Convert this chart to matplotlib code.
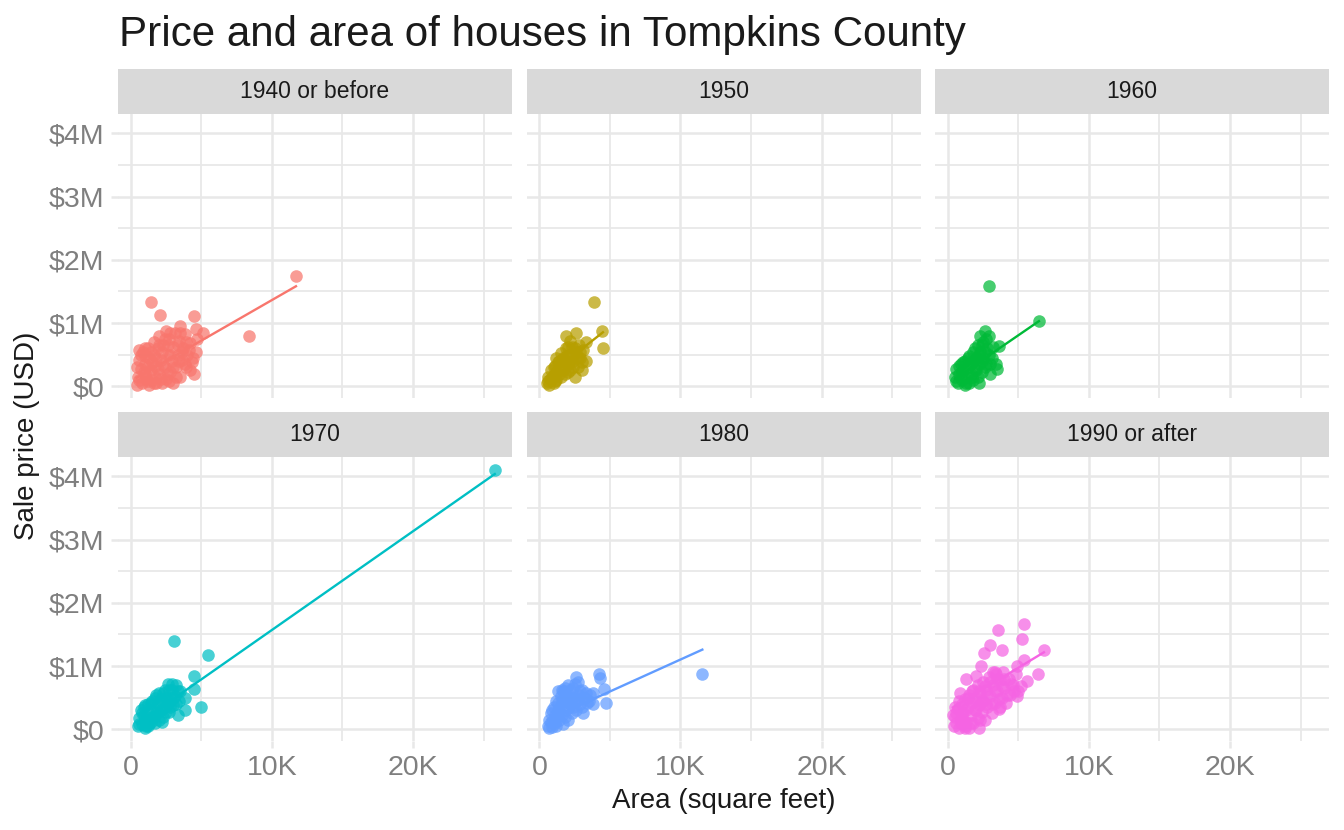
import numpy as np
import matplotlib.pyplot as plt

plt.rcParams['font.family'] = ['Liberation Sans', 'DejaVu Sans']

facets = ['1940 or before', '1950', '1960', '1970', '1980', '1990 or after']
colors = ['#F8766D', '#B79F00', '#00BA38', '#00BFC4', '#619CFF', '#F564E3']

# area in thousand square feet, price in million USD
area_1940 = [0.4, 0.5, 0.45, 0.6, 0.8, 0.9, 0.85, 1.0, 1.1, 1.2, 1.3, 1.3, 1.4, 1.5, 1.6, 1.6,
             1.7, 1.8, 1.9, 2.0, 2.0, 2.1, 2.2, 2.3, 2.4, 2.5, 2.5, 2.6, 2.7, 2.8, 2.9, 3.0,
             3.0, 3.1, 3.2, 3.3, 3.4, 3.5, 3.6, 3.7, 3.8, 3.9, 4.0, 4.2, 4.3, 4.6, 4.7,
             0.6, 0.7, 0.7, 1.0, 1.0, 1.2, 1.2, 1.4, 1.5, 1.7, 1.8, 1.9, 2.1, 2.2, 2.3, 2.4,
             2.6, 2.6, 2.8, 2.8, 3.0, 3.2, 3.3, 3.4, 3.6, 3.8, 3.9, 4.1, 4.4, 2.0, 1.6, 2.7,
             3.5, 4.2,
             11.7, 1.4, 2.05, 4.45, 8.4, 4.5, 4.6, 5.1, 3.5, 0.6, 1.0]
price_1940 = [0.02, 0.15, 0.3, 0.42, 0.05, 0.22, 0.55, 0.35, 0.12, 0.6, 0.02, 0.45, 0.25, 0.1, 0.5, 0.7,
              0.32, 0.05, 0.6, 0.2, 0.8, 0.42, 0.05, 0.65, 0.3, 0.88, 0.12, 0.5, 0.75, 0.22, 0.4, 0.62,
              0.05, 0.85, 0.3, 0.5, 0.72, 0.15, 0.42, 0.6, 0.82, 0.3, 0.5, 0.68, 0.38, 0.55, 0.75,
              0.1, 0.28, 0.5, 0.2, 0.48, 0.3, 0.08, 0.55, 0.38, 0.15, 0.45, 0.28, 0.12, 0.55, 0.35, 0.75,
              0.2, 0.65, 0.5, 0.85, 0.3, 0.15, 0.65, 0.4, 0.55, 0.35, 0.7, 0.58, 0.45, 0.65, 0.05, 0.08,
              0.85, 0.25,
              1.75, 1.34, 1.12, 1.11, 0.79, 0.19, 0.9, 0.84, 0.95, 0.58, 0.6]

area_1950 = [0.5, 0.6, 0.7, 0.8, 0.8, 1.0, 1.0, 1.1, 1.2, 1.3, 1.4, 1.5, 1.5, 1.6, 1.7, 1.8,
             1.9, 2.0, 2.1, 2.2, 2.3, 2.4, 2.5, 2.6, 2.7, 2.8, 2.9, 3.0, 3.1, 3.3, 2.2, 1.2,
             0.6, 0.9, 1.1, 1.2, 1.3, 1.4, 1.6, 1.7, 1.8, 1.9, 2.0, 2.1, 2.3, 2.4, 2.5, 2.7,
             2.9, 3.0, 2.0, 1.0,
             3.9, 4.4, 4.5, 1.9, 2.6, 3.3]
price_1950 = [0.05, 0.15, 0.02, 0.1, 0.25, 0.05, 0.18, 0.32, 0.1, 0.25, 0.4, 0.15, 0.52, 0.3, 0.45, 0.2,
              0.6, 0.35, 0.5, 0.25, 0.62, 0.4, 0.15, 0.55, 0.3, 0.65, 0.45, 0.25, 0.58, 0.4, 0.72, 0.45,
              0.08, 0.15, 0.08, 0.22, 0.38, 0.2, 0.42, 0.25, 0.38, 0.48, 0.22, 0.38, 0.48, 0.3, 0.6, 0.45,
              0.55, 0.38, 0.62, 0.3,
              1.34, 0.88, 0.6, 0.79, 0.84, 0.7]

area_1960 = [0.5, 0.6, 0.7, 0.8, 0.9, 1.0, 1.1, 1.2, 1.2, 1.3, 1.4, 1.5, 1.5, 1.6, 1.7, 1.8,
             1.8, 1.9, 2.0, 2.1, 2.1, 2.2, 2.3, 2.3, 2.4, 2.5, 2.5, 2.6, 2.7, 2.8, 2.9, 3.0,
             3.1, 3.2, 3.4,
             0.6, 0.8, 1.0, 1.1, 1.3, 1.4, 1.6, 1.7, 1.9, 2.0, 2.2, 2.4, 2.6, 2.7, 2.9, 3.0,
             2.4, 1.9, 2.2, 2.6,
             2.9, 6.45, 3.6, 3.5]
price_1960 = [0.15, 0.28, 0.05, 0.2, 0.35, 0.1, 0.25, 0.02, 0.4, 0.15, 0.3, 0.05, 0.48, 0.2, 0.38, 0.1,
              0.55, 0.28, 0.45, 0.65, 0.15, 0.35, 0.55, 0.8, 0.22, 0.45, 0.7, 0.88, 0.35, 0.6, 0.8, 0.2,
              0.45, 0.62, 0.35,
              0.08, 0.32, 0.22, 0.38, 0.05, 0.45, 0.35, 0.15, 0.42, 0.25, 0.5, 0.65, 0.3, 0.75, 0.5, 0.35,
              0.4, 0.6, 0.05, 0.55,
              1.58, 1.03, 0.63, 0.27]

area_1970 = [0.5, 0.6, 0.7, 0.8, 0.9, 1.0, 1.0, 1.1, 1.2, 1.3, 1.4, 1.5, 1.6, 1.7, 1.7, 1.8,
             1.9, 2.0, 2.0, 2.1, 2.2, 2.3, 2.4, 2.4, 2.5, 2.6, 2.7, 2.8, 2.9, 3.0, 3.1, 3.2,
             3.3, 3.4, 3.5, 3.8, 1.2,
             0.6, 0.8, 0.9, 1.1, 1.2, 1.4, 1.5, 1.6, 1.8, 1.9, 2.1, 2.2, 2.3, 2.5, 2.6, 2.7,
             2.8, 3.0, 3.2, 3.3, 2.9, 1.0,
             25.8, 3.05, 5.46, 4.5, 4.5, 5.0, 3.8]
price_1970 = [0.05, 0.18, 0.3, 0.08, 0.22, 0.02, 0.38, 0.15, 0.28, 0.08, 0.42, 0.2, 0.32, 0.1, 0.5, 0.25,
              0.4, 0.15, 0.58, 0.3, 0.45, 0.2, 0.62, 0.35, 0.5, 0.72, 0.28, 0.45, 0.62, 0.38, 0.52, 0.7,
              0.22, 0.45, 0.6, 0.5, 0.05,
              0.08, 0.25, 0.35, 0.05, 0.4, 0.12, 0.45, 0.2, 0.55, 0.28, 0.48, 0.12, 0.58, 0.28, 0.42, 0.62,
              0.35, 0.5, 0.4, 0.6, 0.72, 0.15,
              4.1, 1.40, 1.18, 0.85, 0.63, 0.35, 0.3]

area_1980 = [0.6, 0.7, 0.8, 0.9, 1.0, 1.0, 1.1, 1.2, 1.2, 1.3, 1.4, 1.5, 1.5, 1.6, 1.7, 1.7,
             1.8, 1.9, 2.0, 2.0, 2.1, 2.2, 2.3, 2.4, 2.5, 2.6, 2.7, 2.8, 2.9, 3.0, 3.1, 3.2,
             3.4, 3.6, 3.8, 1.3,
             0.7, 0.8, 0.9, 1.1, 1.3, 1.4, 1.6, 1.6, 1.8, 1.9, 2.1, 2.2, 2.3, 2.4, 2.5, 2.7,
             2.9, 3.0, 3.3, 3.5, 1.2, 2.0,
             11.55, 4.2, 4.3, 2.6, 1.8, 4.6, 4.7, 3.8]
price_1980 = [0.05, 0.15, 0.25, 0.03, 0.12, 0.35, 0.22, 0.05, 0.45, 0.3, 0.15, 0.52, 0.38, 0.22, 0.6, 0.08,
              0.45, 0.3, 0.7, 0.15, 0.55, 0.4, 0.25, 0.65, 0.48, 0.3, 0.75, 0.55, 0.4, 0.62, 0.25, 0.5,
              0.42, 0.55, 0.4, 0.6,
              0.02, 0.12, 0.3, 0.1, 0.42, 0.28, 0.45, 0.62, 0.2, 0.55, 0.35, 0.62, 0.5, 0.35, 0.72, 0.48,
              0.6, 0.35, 0.58, 0.45, 0.2, 0.45,
              0.87, 0.87, 0.81, 0.82, 0.66, 0.63, 0.42, 0.57]

area_1990 = [0.4, 0.5, 0.6, 0.7, 0.8, 0.9, 1.0, 1.0, 1.1, 1.2, 1.3, 1.4, 1.5, 1.5, 1.6, 1.7,
             1.8, 1.8, 1.9, 2.0, 2.1, 2.1, 2.2, 2.3, 2.4, 2.5, 2.5, 2.6, 2.7, 2.8, 2.9, 3.0,
             3.1, 3.2, 3.3, 3.4, 3.5, 3.6, 3.7, 3.8, 3.9, 4.0, 4.1, 4.3, 4.4, 4.6, 4.8, 5.0,
             2.0, 1.2,
             0.5, 0.6, 0.8, 0.9, 1.1, 1.3, 1.4, 1.6, 1.7, 1.9, 2.0, 2.2, 2.3, 2.4, 2.6, 2.7,
             2.8, 3.0, 3.1, 3.3, 3.5, 3.6, 3.8, 4.0, 4.2, 4.5, 4.7, 3.2, 2.2, 1.0,
             5.4, 3.55, 5.25, 3.0, 2.55, 3.8, 6.8, 5.4, 2.35, 4.9, 6.4, 1.3, 3.3, 5.6, 5.2,
             0.85, 4.9, 3.7, 0.35, 1.2]
price_1990 = [0.05, 0.2, 0.1, 0.32, 0.02, 0.18, 0.4, 0.08, 0.28, 0.48, 0.12, 0.35, 0.55, 0.02, 0.22, 0.42,
              0.62, 0.1, 0.3, 0.5, 0.7, 0.18, 0.38, 0.58, 0.28, 0.75, 0.45, 0.15, 0.62, 0.35, 0.82, 0.52,
              0.25, 0.7, 0.42, 0.88, 0.6, 0.32, 0.78, 0.5, 0.9, 0.65, 0.42, 0.8, 0.55, 0.7, 0.88, 0.6,
              0.85, 0.02,
              0.35, 0.25, 0.45, 0.1, 0.15, 0.3, 0.5, 0.1, 0.6, 0.45, 0.3, 0.6, 0.15, 0.45, 0.68, 0.4,
              0.55, 0.75, 0.4, 0.6, 0.8, 0.48, 0.68, 0.8, 0.55, 0.72, 0.6, 0.9, 0.02, 0.25,
              1.67, 1.57, 1.42, 1.33, 1.2, 1.26, 1.25, 1.09, 1.0, 1.0, 0.88, 0.8, 0.9, 0.77, 0.69,
              0.57, 0.52, 0.36, 0.22, 0.06]

areas = [area_1940, area_1950, area_1960, area_1970, area_1980, area_1990]
prices = [price_1940, price_1950, price_1960, price_1970, price_1980, price_1990]

# linear fit lines (slope in $M per 1K sq ft)
fit_slope = [0.128, 0.176, 0.153, 0.156, 0.101, 0.135]
fit_intercept = [0.084, 0.062, 0.043, 0.011, 0.093, 0.299]

x_ticks = [0, 10, 20]
x_labels = ['0', '10K', '20K']
x_minor = [5, 15, 25]
y_ticks = [0, 1, 2, 3, 4]
y_labels = ['$0', '$1M', '$2M', '$3M', '$4M']
y_minor = [0.5, 1.5, 2.5, 3.5]

W, H = 1344, 830
fig = plt.figure(figsize=(W / 100, H / 100), dpi=100)
fig.patch.set_facecolor('white')

grid_col = '#E8E8E8'
col_left = [118, 526.5, 935]
panel_w = 394
row_top = [114, 457]
panel_h = 284
strip_h = 45

for i in range(6):
    r, c = divmod(i, 3)
    left = col_left[c]
    top = row_top[r]
    ax = fig.add_axes([left / W, 1 - (top + panel_h) / H, panel_w / W, panel_h / H])
    ax.set_facecolor('white')
    for s in ax.spines.values():
        s.set_visible(False)
    ax.set_xlim(-0.92, 27.02)
    ax.set_ylim(-0.185, 4.305)

    for xv in x_minor:
        ax.axvline(xv, color=grid_col, lw=1.3, zorder=0)
    for yv in y_minor:
        ax.axhline(yv, color=grid_col, lw=1.3, zorder=0)
    for xv in x_ticks:
        ax.axvline(xv, color=grid_col, lw=1.8, zorder=0)
    for yv in y_ticks:
        ax.axhline(yv, color=grid_col, lw=1.8, zorder=0)

    ax.set_xticks(x_ticks)
    ax.set_yticks(y_ticks)
    ax.tick_params(axis='both', length=5, width=1.8, color=grid_col,
                   labelsize=20.5, labelcolor='#7F7F7F', pad=5)
    if c == 0:
        ax.set_yticklabels(y_labels)
    else:
        ax.tick_params(axis='y', left=False, labelleft=False)
    if r == 1:
        ax.set_xticklabels(x_labels)
    else:
        ax.tick_params(axis='x', bottom=False, labelbottom=False)

    a = np.array(areas[i])
    p = np.array(prices[i])
    ax.scatter(a, p, s=82, color=colors[i], alpha=0.72, linewidths=0, zorder=2)
    xs = np.array([a.min(), a.max()])
    ax.plot(xs, fit_intercept[i] + fit_slope[i] * xs, color=colors[i], lw=1.7, zorder=3)

    sax = fig.add_axes([left / W, 1 - (top) / H, panel_w / W, strip_h / H])
    sax.set_facecolor('#D9D9D9')
    sax.set_xticks([])
    sax.set_yticks([])
    for s in sax.spines.values():
        s.set_visible(False)
    sax.text(0.5, 0.5, facets[i], ha='center', va='center', fontsize=16.5,
             color='#1A1A1A', transform=sax.transAxes)

fig.text(119 / W, 1 - 46 / H, 'Price and area of houses in Tompkins County',
         fontsize=30.3, color='#1A1A1A', ha='left', va='baseline')
fig.text(723.5 / W, 1 - 808 / H, 'Area (square feet)', fontsize=20,
         color='#1A1A1A', ha='center', va='baseline')
fig.text(27 / W, 1 - 436 / H, 'Sale price (USD)', fontsize=20, color='#1A1A1A',
         ha='center', va='center', rotation=90)

fig.savefig('out.png', dpi=100)
